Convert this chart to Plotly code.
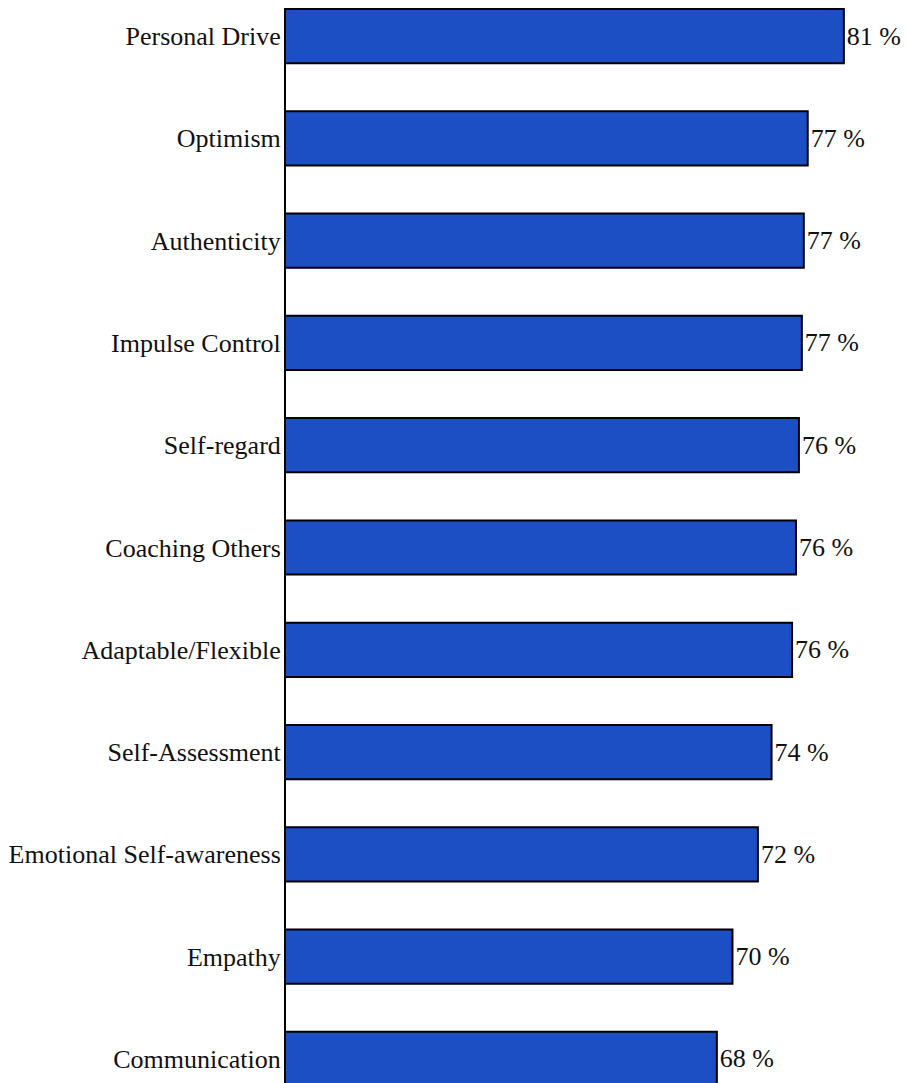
import plotly.graph_objects as go

categories = ["Personal Drive", "Optimism", "Authenticity", "Impulse Control",
              "Self-regard", "Coaching Others", "Adaptable/Flexible",
              "Self-Assessment", "Emotional Self-awareness", "Empathy",
              "Communication"]
values = [81.0, 77.3, 76.9, 76.7, 76.4, 76.1, 75.7, 73.6, 72.2, 69.6, 68.0]
labels = ["81 %", "77 %", "77 %", "77 %", "76 %", "76 %", "76 %",
          "74 %", "72 %", "70 %", "68 %"]

font_family = "Liberation Serif, Times New Roman, serif"

fig = go.Figure(go.Bar(
    y=categories,
    x=values,
    orientation="h",
    base=0,
    marker=dict(color="#1d4fc4", line=dict(color="#000000", width=2)),
    width=0.53,
    text=labels,
    textposition="outside",
    textfont=dict(family=font_family, size=26, color="#111111"),
    cliponaxis=False,
))

fig.update_layout(
    width=906, height=1083,
    margin=dict(l=286, r=0, t=8, b=0),
    paper_bgcolor="white", plot_bgcolor="white",
    showlegend=False,
    font=dict(family=font_family, size=26, color="#111111"),
    xaxis=dict(range=[23.9, 87.36], visible=False, showgrid=False, zeroline=False),
    yaxis=dict(type="category", categoryorder="array", categoryarray=categories,
               range=[10.235, -0.274], showline=True, linecolor="#000000",
               linewidth=2, showgrid=False, ticks="", ticklabelstandoff=-2,
               tickfont=dict(family=font_family, size=26, color="#111111")),
)

fig.write_html("out.html")
